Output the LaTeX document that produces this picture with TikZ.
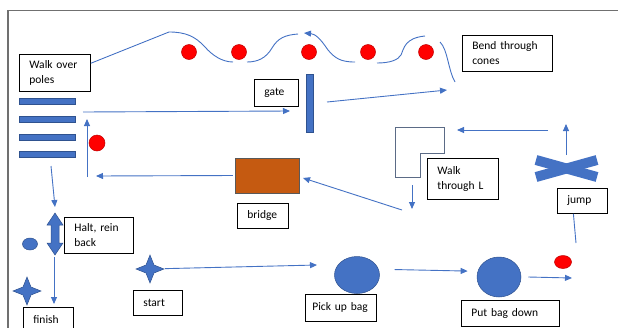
\documentclass[tikz,border=0pt]{standalone}
\usepackage{fontspec}
\setmainfont{Carlito}
\usepackage{tikz}
\usetikzlibrary{arrows.meta,shapes.geometric}

\definecolor{officeblue}{HTML}{4472C4}
\definecolor{darkblue}{HTML}{2F528F}
\definecolor{bridgeorange}{HTML}{C55A11}
\definecolor{lgray}{HTML}{5B6B86}
\definecolor{framegray}{HTML}{707070}

\tikzset{
    >={Triangle[length=7pt,width=6pt]},
    lbl/.style 2 args={draw=black, line width=0.8pt, anchor=north west, align=left,
        inner xsep=10pt, inner ysep=0pt, text width=#1, minimum height=#2,
        font=\fontsize{11.5}{15}\selectfont},
    route/.style={color=officeblue, line width=0.9pt},
    cone/.style={circle, fill=red, draw=red!75!black, line width=0.5pt, minimum size=15pt, inner sep=0pt},
    blueshape/.style={fill=officeblue, draw=darkblue, line width=0.5pt},
}

\begin{document}
\begin{tikzpicture}[x=1pt,y=-1pt]
    \useasboundingbox (0,0) rectangle (618,327);
    \draw[framegray, line width=1.6pt] (8,330) -- (8,10.5) -- (620,10.5);

    % poles
    \foreach \y [count=\i] in {101,119,137,154}
        \node[blueshape, rectangle, minimum width=56pt, minimum height=6pt, inner sep=0pt] (pole\i) at (47,\y) {};
    \node[lbl={51pt}{37pt}] (polesL) at (19,54) {Walk over\\poles};

    % cones
    \foreach \x [count=\i] in {189,239,309,368,426}
        \node[cone] (cone\i) at (\x,52) {};
    \node[cone, minimum size=16pt] (cone6) at (97,143) {};
    \node[lbl={70pt}{36pt}] (bendL) at (462,35) {Bend through\\cones};

    % gate
    \node[blueshape, rectangle, minimum width=7pt, minimum height=58pt, inner sep=0pt] (gate) at (309.5,103) {};
    \node[lbl={24pt}{27pt}] (gateL) at (254,79) {gate};

    % bridge
    \node[rectangle, fill=bridgeorange, draw=gray!70!black, line width=0.5pt,
        minimum width=64pt, minimum height=35pt] (bridge) at (267,175.5) {};
    \node[lbl={31pt}{25pt}] (bridgeL) at (237,203) {bridge};

    % L
    \draw[lgray, line width=0.9pt] (395,127) -- (444,127) -- (444,153) -- (420,153) -- (420,177) -- (395,177) -- cycle;
    \node[lbl={51pt}{41pt}] (walkL) at (427,158) {Walk\\through L};

    % jump
    \draw[officeblue, line width=10pt] (536,160) -- (597,177);
    \draw[officeblue, line width=10pt] (536,177) -- (597,160);
    \node[lbl={30pt}{25pt}] (jumpL) at (557,188) {jump};
    \node[ellipse, fill=red, draw=red!75!black, line width=0.5pt, minimum width=17pt,
        minimum height=13pt, inner sep=0pt] (jumpcone) at (563,262) {};

    % bags
    \node[blueshape, ellipse, minimum width=45pt, minimum height=37pt] (pickup) at (357,275) {};
    \node[blueshape, ellipse, minimum width=44pt, minimum height=40pt] (putdown) at (499,277) {};
    \node[lbl={57pt}{27pt}, inner xsep=7pt] (pickL) at (305,294) {Pick up bag};
    \node[lbl={78pt}{26pt}] (putL) at (461,300) {Put bag down};

    % halt
    \draw[blueshape] (55,213) -- (63,225) -- (59,225) -- (59,243) -- (63,243) -- (55,255)
        -- (47,243) -- (51,243) -- (51,225) -- (47,225) -- cycle;
    \node[blueshape, ellipse, minimum width=15pt, minimum height=12pt, inner sep=0pt] (spot) at (30,244) {};
    \node[lbl={49pt}{36pt}] (haltL) at (64,217) {Halt, rein\\back};

    % start and finish
    \foreach \cx/\cy in {150/269, 27/291}
        \draw[blueshape] (\cx,\cy-14) -- ++(4,10) -- ++(10,4) -- ++(-10,4) -- ++(-4,10)
            -- ++(-4,-10) -- ++(-10,-4) -- ++(10,-4) -- cycle;
    \coordinate (st) at (150,269);
    \node[lbl={29pt}{25pt}] (startL) at (133,290) {start};
    \node[lbl={30pt}{24pt}] (finishL) at (23,307) {finish};

    % weave through the cones
    \coordinate (w0) at (169,32);
    \draw[route] (polesL.15) -- (w0);
    \draw[route] (w0) .. controls (185,32) and (195,36) .. (205,47) .. controls (212,55) and (222,62) .. (233,62);
    \draw[route] (247,62) .. controls (258,62) and (266,58) .. (272,48) .. controls (278,38) and (285,35) .. (298,34);
    \draw[route,->] (355,62) .. controls (340,62) and (335,58) .. (328,50) .. controls (320,38) and (315,34) .. (304,33);
    \draw[route] (377,63) .. controls (390,63) and (398,60) .. (401,55) .. controls (404,48) and (405,38) .. (425,36);
    \draw[route] (440,42) .. controls (448,50) and (448,70) .. (455,82);

    % arrows
    \coordinate (p1) at (83,112);
    \coordinate (g1) at (290,111);
    \coordinate (g2) at (327,102);
    \coordinate (b1) at (447,90);
    \coordinate (u0) at (87,177);
    \coordinate (u1) at (87,119);
    \coordinate (br0) at (96,176);
    \coordinate (l0) at (402,210);
    \coordinate (br1) at (303,178);
    \coordinate (l1) at (412,185);
    \coordinate (l2) at (412,209);
    \coordinate (x0) at (548,130);
    \coordinate (x1) at (457,130);
    \coordinate (j0) at (566,155);
    \coordinate (j1) at (566,124);
    \coordinate (j2) at (576,243);
    \coordinate (e1) at (572,278);
    \coordinate (pk1) at (317,265);
    \coordinate (h0) at (51,166);
    \coordinate (h1) at (55,207);
    \coordinate (f0) at (54,257);
    \coordinate (f1) at (54,304);

    \draw[route,->] (p1) -- (g1);
    \draw[route,->] (g2) -- (b1);
    \draw[route,->] (u0) -- (u1);
    \draw[route,->,shorten <=2pt] (bridge.west) -- (br0);
    \draw[route,->] (l0) -- (br1);
    \draw[route,->] (l1) -- (l2);
    \draw[route,->] (x0) -- (x1);
    \draw[route,->] (j0) -- (j1);
    \draw[route] ([xshift=-9pt]jumpL.south) -- (j2);
    \draw[route,->] ([xshift=7pt]putdown.east) -- (e1);
    \draw[route,->,shorten <=16pt,shorten >=10pt] (pickup.15) -- (putdown.165);
    \draw[route,->,shorten <=15pt] (st) -- (pk1);
    \draw[route,->] (h0) -- (h1);
    \draw[route,->] (f0) -- (f1);
\end{tikzpicture}
\end{document}
